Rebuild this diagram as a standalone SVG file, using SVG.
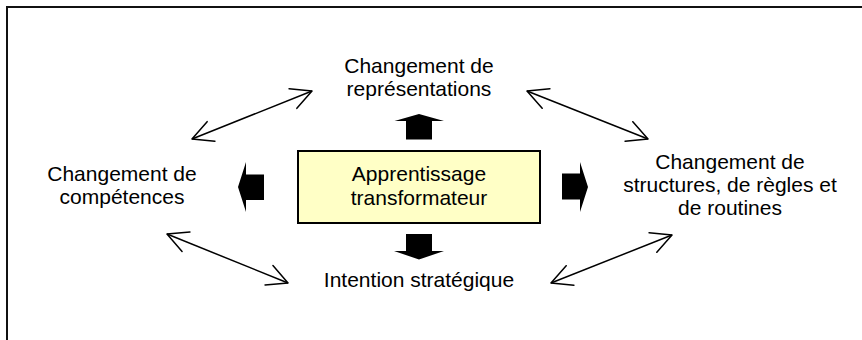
<svg xmlns="http://www.w3.org/2000/svg" width="862" height="340" viewBox="0 0 862 340">
<style>
text{font-family:"Liberation Sans",Arial,sans-serif;font-size:21px;fill:#000;text-anchor:middle}
.dbl{fill:none;stroke:#000;stroke-width:1.5;marker-start:url(#oa);marker-end:url(#oa)}
.blk{fill:#000;stroke:none}
</style>
<defs>
<marker id="oa" markerUnits="userSpaceOnUse" markerWidth="30" markerHeight="30" viewBox="-25 -15 30 30" refX="0" refY="0" orient="auto-start-reverse" overflow="visible">
<path d="M-20.5,-10.5 L0,0 L-20.5,10.5" fill="none" stroke="#000" stroke-width="1.5" stroke-linecap="round" stroke-linejoin="round"/>
</marker>
</defs>
<rect x="7" y="7" width="900" height="400" fill="#fff" stroke="#111" stroke-width="2"/>
<g id="connectors">
<line class="dbl" x1="192" y1="139" x2="312" y2="91"/>
<line class="dbl" x1="527" y1="91" x2="648" y2="139"/>
<line class="dbl" x1="167" y1="234" x2="288" y2="283"/>
<line class="dbl" x1="672" y1="235" x2="551" y2="283"/>
<path class="blk" d="M406,139.5 L406,121 L394.5,121 L419,114 L444,121 L432,121 L432,139.5 Z"/>
<path class="blk" d="M406,234 L432,234 L432,251 L444,251 L419,259.5 L394,251 L406,251 Z"/>
<path class="blk" d="M264,174.5 L246,174.5 L246,162 L238,187 L246,212 L246,200 L264,200 Z"/>
<path class="blk" d="M562,173.5 L580,173.5 L580,162 L588,187 L580,212 L580,199.5 L562,199.5 Z"/>
</g>
<g id="center">
<rect x="298" y="151" width="242" height="72" fill="#FFFFC6" stroke="#000" stroke-width="2"/>
<text x="419" y="181">Apprentissage</text>
<text x="419" y="205">transformateur</text>
</g>
<g id="top">
<text x="419" y="73">Changement de</text>
<text x="419" y="96">représentations</text>
</g>
<g id="left">
<text x="122" y="181">Changement de</text>
<text x="122" y="204">compétences</text>
</g>
<g id="right">
<text x="730" y="169">Changement de</text>
<text x="730" y="192">structures, de règles et</text>
<text x="730" y="215">de routines</text>
</g>
<g id="bottom">
<text x="419" y="287">Intention stratégique</text>
</g>
</svg>
